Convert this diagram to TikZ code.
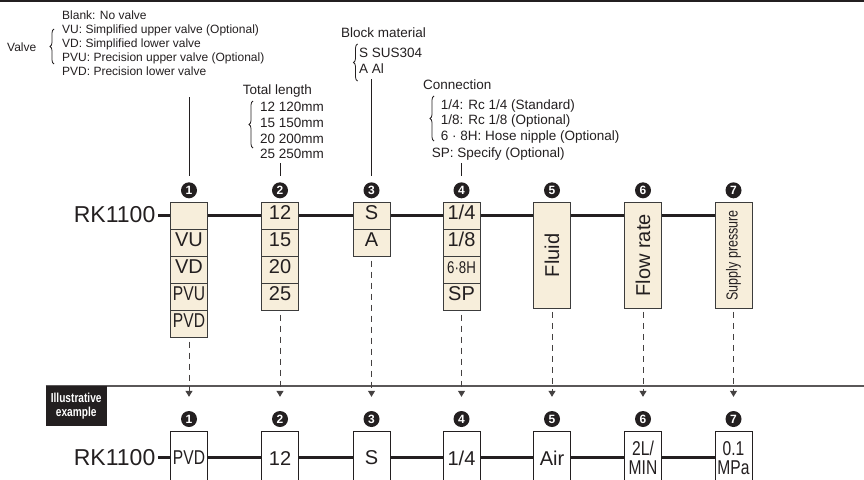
\documentclass[tikz,border=0pt]{standalone}
\usepackage{fontspec}
\setmainfont{Liberation Sans}
\usetikzlibrary{matrix,backgrounds,arrows.meta,positioning,decorations.pathreplacing}
\definecolor{boxfill}{HTML}{F7EEDB}
\definecolor{boxline}{HTML}{3C3C3C}
\definecolor{ink}{HTML}{231F20}
\newcommand\narrowtxt[1]{\scalebox{0.78}[1]{#1}}

\begin{document}
\begin{tikzpicture}[x=1pt,y=-1pt,text=ink,
  array/.style={matrix of nodes,nodes={draw=boxline, fill=boxfill, line width=0.8pt, minimum width=37pt, minimum height=27pt, inner sep=0pt, text height=1.5ex, text depth=.25ex, font=\fontsize{20}{22}\selectfont},
    line width=0.8pt, row sep=-\pgflinewidth, inner sep=0pt, nodes in empty cells, anchor=north},
  tallbox/.style={draw=boxline, fill=boxfill, line width=0.8pt, minimum width=37pt, minimum height=106pt, inner sep=0pt, anchor=north, font=\fontsize{20}{22}\selectfont},
  exbox/.style={draw=ink, fill=white, line width=0.8pt, minimum width=37pt, minimum height=54pt, inner sep=0pt, align=center, font=\fontsize{20}{19}\selectfont},
  num/.style={circle, fill=ink, text=white, minimum size=16pt, inner sep=0pt, font=\fontsize{12}{12}\selectfont\bfseries},
  rk/.style={font=\fontsize{23}{23}\selectfont, inner sep=2.5pt, anchor=east},
  desc/.style={inner sep=0pt, align=left, font=\fontsize{13.5}{15.7}\selectfont},
  tag/.style={fill=ink, text=white, inner sep=0pt, minimum width=61pt, minimum height=40pt, align=center, anchor=north west, font=\fontsize{13}{14.5}\selectfont\bfseries},
  mainline/.style={line width=3pt, draw=ink},
  lead/.style={line width=0.8pt, draw=ink, shorten >=6pt},
  dashline/.style={line width=1pt, draw=ink!85, dash pattern=on 6pt off 5pt, shorten <=3pt, shorten >=14pt, -{Triangle[width=7pt,length=6pt]}},
  curly/.style={decorate, decoration={brace, amplitude=4pt}, line width=0.8pt, draw=ink},
]
\useasboundingbox (0,0) rectangle (864,479);
\draw[line width=2pt, ink] (0,1) -- (864,1);

\node[desc, anchor=west, font=\fontsize{12}{14}\selectfont] (valvelbl) at (7,47) {Valve};
\node[desc, anchor=north west, font=\fontsize{12}{14}\selectfont] (valvetxt) at (62,10.5) {Blank: No valve\\VU: Simplified upper valve (Optional)\\VD: Simplified lower valve\\PVU: Precision upper valve (Optional)\\PVD: Precision lower valve};
\draw[curly] (54,64) -- (54,29);

\node[desc, anchor=base west] (lenhead) at (242.7,94.9) {Total length};
\node[desc, anchor=north west] (lentxt) at (260,102.2) {12 120mm\\15 150mm\\20 200mm\\25 250mm};
\draw[curly] (253,148) -- (253,101);

\node[desc, anchor=base west] (mathead) at (341,37) {Block material};
\node[desc, anchor=north west, font=\fontsize{13.5}{16}\selectfont] (mattxt) at (359,48.2) {S SUS304\\A Al};
\draw[curly] (357.5,81) -- (357.5,44);

\node[desc, anchor=base west] (connhead) at (423,89.9) {Connection};
\node[desc, anchor=north west, font=\fontsize{13.5}{15.5}\selectfont] (conntxt) at (440.7,99.2) {1/4: Rc 1/4 (Standard)\\1/8: Rc 1/8 (Optional)\\6 · 8H: Hose nipple (Optional)};
\node[desc, anchor=base west] (conntxtsp) at (431.7,157.9) {SP: Specify (Optional)};
\draw[curly] (434,141) -- (434,96);

\node[rk] (rk) at (158,215) {RK1100};

\matrix[array] (valve) at (189,202) {
{} \\
VU \\
VD \\
\narrowtxt{PVU} \\
\narrowtxt{PVD} \\ };

\matrix[array] (length) at (280,202) {
12 \\
15 \\
20 \\
25 \\ };

\matrix[array] (material) at (371.5,202) {
S \\
A \\ };

\matrix[array] (conn) at (461.5,202) {
1/4 \\
1/8 \\
\narrowtxt{\fontsize{17}{17}\selectfont 6·8H} \\
SP \\ };

\node[tallbox] (fluid) at (552,202) {\rotatebox{90}{Fluid}};
\node[tallbox] (flow) at (643,202) {\rotatebox{90}{Flow rate}};
\node[tallbox] (supply) at (733.5,202) {\rotatebox{90}{\narrowtxt{\fontsize{16}{16}\selectfont Supply pressure}}};

\begin{scope}[on background layer]
\draw[mainline] (rk.east) -- (supply.west |- rk.east);
\end{scope}

\node[num, above=3.5pt of valve] (n1) {1};
\node[num, above=3.5pt of length] (n2) {2};
\node[num, above=3.5pt of material] (n3) {3};
\node[num, above=3.5pt of conn] (n4) {4};
\node[num, above=3.5pt of fluid] (n5) {5};
\node[num, above=3.5pt of flow] (n6) {6};
\node[num, above=3.5pt of supply] (n7) {7};

\coordinate (v1) at (189,97);
\coordinate (v2) at (280,163);
\coordinate (v3) at (371.5,79);
\coordinate (v4) at (461.5,163);
\draw[lead] (v1) -- (n1);
\draw[lead] (v2) -- (n2);
\draw[lead] (v3) -- (n3);
\draw[lead] (v4) -- (n4);

\draw[line width=1.5pt, ink!75] (45.5,386) -- (864,386);
\node[tag] (example) at (45.5,386) {\narrowtxt{Illustrative}\\\narrowtxt{example}};

\node[num] (b1) at (189,419) {1};
\node[num] (b2) at (280,419) {2};
\node[num] (b3) at (371.5,419) {3};
\node[num] (b4) at (461.5,419) {4};
\node[num] (b5) at (552,419) {5};
\node[num] (b6) at (643,419) {6};
\node[num] (b7) at (733.5,419) {7};

\draw[dashline] (valve) -- (b1);
\draw[dashline] (length) -- (b2);
\draw[dashline] (material) -- (b3);
\draw[dashline] (conn) -- (b4);
\draw[dashline] (fluid) -- (b5);
\draw[dashline] (flow) -- (b6);
\draw[dashline] (supply) -- (b7);

\node[rk] (rk2) at (158,457.5) {RK1100};
\node[exbox, below=3.5pt of b1] (ex1) {\narrowtxt{PVD}};
\node[exbox, below=3.5pt of b2] (ex2) {12};
\node[exbox, below=3.5pt of b3] (ex3) {S};
\node[exbox, below=3.5pt of b4] (ex4) {1/4};
\node[exbox, below=3.5pt of b5] (ex5) {Air};
\node[exbox, below=3.5pt of b6] (ex6) {\narrowtxt{2L/}\\\narrowtxt{MIN}};
\node[exbox, below=3.5pt of b7] (ex7) {\narrowtxt{0.1}\\\narrowtxt{MPa}};

\begin{scope}[on background layer]
\draw[mainline] (rk2.east) -- (ex7.west |- rk2.east);
\end{scope}

\end{tikzpicture}
\end{document}
